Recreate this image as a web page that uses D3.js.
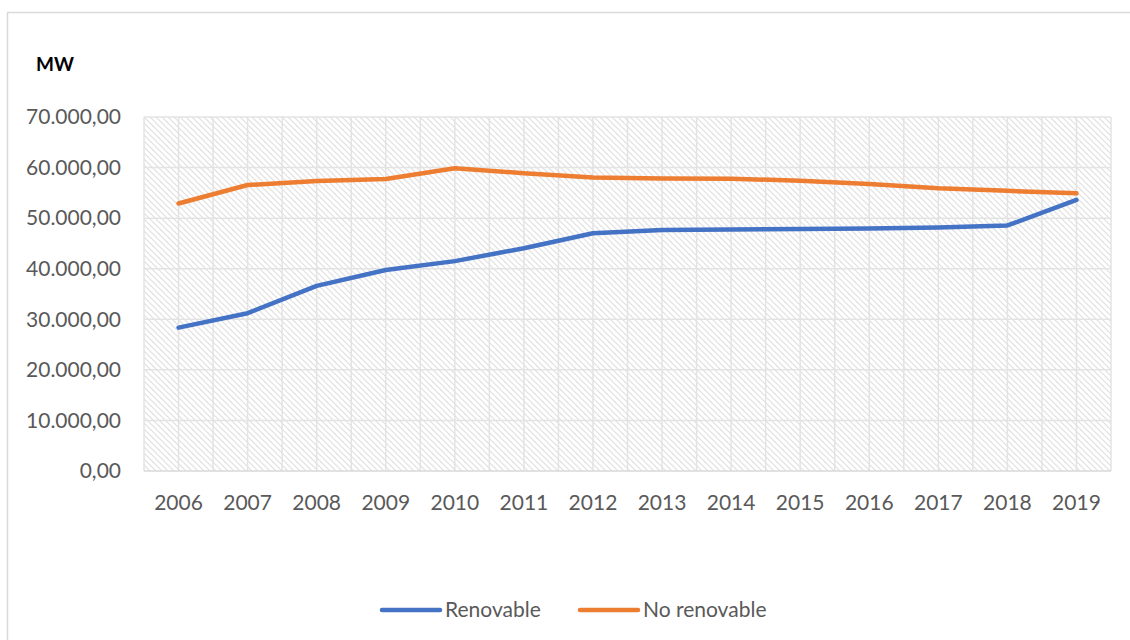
<!DOCTYPE html>
<html>
<head>
<meta charset="utf-8">
<script src="https://cdn.jsdelivr.net/npm/d3@7"></script>
<style>
  body { margin: 0; background: #fff; }
  text { font-family: Lato, "Open Sans", sans-serif; }
</style>
</head>
<body>
<div id="chart"></div>
<script>
// data (MW)
var years = ["2006","2007","2008","2009","2010","2011","2012","2013","2014","2015","2016","2017","2018","2019"];
var renovable = [28350, 31200, 36600, 39750, 41500, 44050, 47000, 47650, 47750, 47850, 47950, 48150, 48550, 53600];
var noRenovable = [52900, 56550, 57350, 57750, 59850, 58900, 58050, 57850, 57800, 57400, 56750, 55900, 55400, 54900];
var yTicks = [0, 10000, 20000, 30000, 40000, 50000, 60000, 70000];

var series = [
  {name: "Renovable", values: renovable, color: "#4472C4"},
  {name: "No renovable", values: noRenovable, color: "#ED7D31"}
];

var W = 1130, H = 640;
var margin = {top: 117, right: 19, bottom: 169, left: 144},
    width = W - margin.left - margin.right,
    height = H - margin.top - margin.bottom;

var svg = d3.select("#chart")
  .append("svg")
    .attr("width", W)
    .attr("height", H);

// outer chart frame
svg.append("rect")
  .attr("x", 7.5).attr("y", 12.5)
  .attr("width", W).attr("height", H)
  .attr("fill", "none")
  .attr("stroke", "#d9d9d9")
  .attr("stroke-width", 1.5);

// hatch pattern for plot area
var defs = svg.append("defs");
var pat = defs.append("pattern")
  .attr("id", "hatch")
  .attr("patternUnits", "userSpaceOnUse")
  .attr("width", 6).attr("height", 6);
pat.append("path")
  .attr("d", "M0,0 L6,6 M-3,3 L3,9 M3,-3 L9,3")
  .attr("stroke", "#dedede")
  .attr("stroke-width", 1.1);

var g = svg.append("g")
  .attr("transform", "translate(" + margin.left + "," + margin.top + ")");

var x = d3.scaleBand().domain(years).range([0, width]);
var y = d3.scaleLinear().domain([0, 70000]).range([height, 0]);

g.append("rect")
  .attr("width", width).attr("height", height)
  .attr("fill", "url(#hatch)");

// vertical gridlines at category edges and centres
var vLines = [];
years.forEach(function(d) { vLines.push(x(d)); vLines.push(x(d) + x.bandwidth() / 2); });
vLines.push(width);
g.append("g").selectAll("line")
  .data(vLines)
  .enter().append("line")
    .attr("x1", function(d) { return d; }).attr("x2", function(d) { return d; })
    .attr("y1", 0).attr("y2", height)
    .attr("stroke", "#e3e3e3").attr("stroke-width", 1.5);

// horizontal gridlines
g.append("g").selectAll("line")
  .data(yTicks)
  .enter().append("line")
    .attr("x1", 0).attr("x2", width)
    .attr("y1", function(d) { return y(d); }).attr("y2", function(d) { return y(d); })
    .attr("stroke", function(d) { return d === 0 ? "#d9d9d9" : "#e3e3e3"; })
    .attr("stroke-width", 1.5);

// y labels
var fmt = function(v) {
  return d3.format(",.2f")(v).replace(/,/g, "#").replace(".", ",").replace(/#/g, ".");
};
g.append("g").selectAll("text")
  .data(yTicks)
  .enter().append("text")
    .attr("x", -23)
    .attr("y", function(d) { return y(d); })
    .attr("dy", "0.35em")
    .attr("text-anchor", "end")
    .attr("font-size", 21)
    .attr("fill", "#595959")
    .text(fmt);

// x labels
g.append("g").selectAll("text")
  .data(years)
  .enter().append("text")
    .attr("x", function(d) { return x(d) + x.bandwidth() / 2; })
    .attr("y", height + 39)
    .attr("text-anchor", "middle")
    .attr("font-size", 21)
    .attr("fill", "#595959")
    .text(function(d) { return d; });

// unit label
svg.append("text")
  .attr("x", 36).attr("y", 71)
  .attr("font-size", 19)
  .attr("font-weight", "bold")
  .attr("fill", "#000")
  .text("MW");

// lines
var line = d3.line()
  .x(function(d, i) { return x(years[i]) + x.bandwidth() / 2; })
  .y(function(d) { return y(d); });

g.selectAll(".series")
  .data(series)
  .enter().append("path")
    .attr("fill", "none")
    .attr("stroke", function(d) { return d.color; })
    .attr("stroke-width", 4.5)
    .attr("stroke-linejoin", "round")
    .attr("stroke-linecap", "round")
    .attr("d", function(d) { return line(d.values); });

// legend
var legend = svg.append("g");
var legX = [380, 578];
series.forEach(function(s, i) {
  legend.append("line")
    .attr("x1", legX[i] + 2).attr("x2", legX[i] + 60)
    .attr("y1", 610).attr("y2", 610)
    .attr("stroke", s.color).attr("stroke-width", 4.5)
    .attr("stroke-linecap", "round");
  legend.append("text")
    .attr("x", legX[i] + 65).attr("y", 610)
    .attr("dy", "0.35em")
    .attr("font-size", 21)
    .attr("fill", "#595959")
    .text(s.name);
});
</script>
</body>
</html>
